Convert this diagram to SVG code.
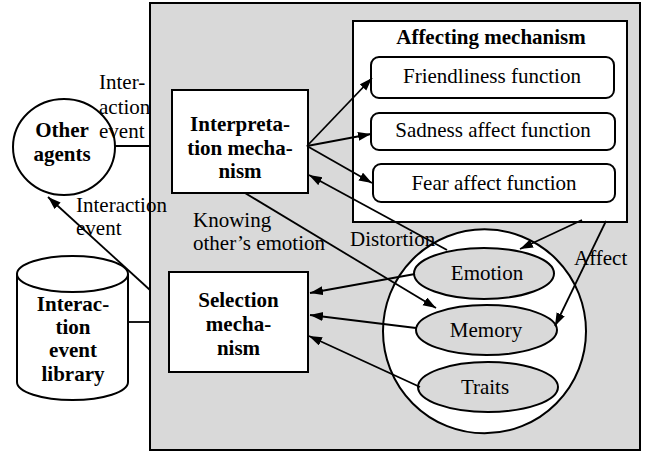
<svg xmlns="http://www.w3.org/2000/svg" width="647" height="454" viewBox="0 0 647 454">
  <defs>
    <marker id="arrow" markerUnits="userSpaceOnUse" markerWidth="14" markerHeight="10" refX="13" refY="4.5" orient="auto">
      <path d="M0,0 L13,4.5 L0,9 z" fill="#000"/>
    </marker>
    <style>
      text { font-family: "Liberation Serif", "DejaVu Serif", serif; font-size: 21px; fill: #000; }
      .b { font-weight: bold; }
      .c { text-anchor: middle; }
      .box { fill: #fff; stroke: #000; stroke-width: 2; }
      .grey { fill: #d9d9d9; stroke: #000; stroke-width: 2; }
      .link { fill: none; stroke: #000; stroke-width: 1.8; }
      .arr { fill: none; stroke: #000; stroke-width: 1.8; marker-end: url(#arrow); }
    </style>
  </defs>

  <!-- agent boundary -->
  <g id="agent">
    <rect class="grey" x="150" y="3" width="490" height="447"/>
  </g>

  <!-- affecting mechanism with its three functions -->
  <g id="affecting">
    <rect class="box" x="353" y="21" width="274" height="201"/>
    <text class="b c" x="491" y="44" font-family="Liberation Serif, serif">Affecting mechanism</text>
  </g>
  <g id="friendliness">
    <rect class="box" x="371" y="57" width="243" height="41" rx="8"/>
    <text class="c" x="492" y="83">Friendliness function</text>
  </g>
  <g id="sadness">
    <rect class="box" x="371" y="113" width="244" height="37" rx="8"/>
    <text class="c" x="493" y="137">Sadness affect function</text>
  </g>
  <g id="fear">
    <rect class="box" x="373" y="164" width="242" height="38" rx="8"/>
    <text class="c" x="494" y="190">Fear affect function</text>
  </g>

  <!-- interpretation mechanism -->
  <g id="interpretation">
    <rect class="box" x="172" y="90" width="136" height="103"/>
    <text class="b c" x="240" y="131">Interpreta-</text>
    <text class="b c" x="240" y="155">tion mecha-</text>
    <text class="b c" x="240" y="178">nism</text>
  </g>

  <!-- selection mechanism -->
  <g id="selection">
    <rect class="box" x="169" y="272" width="139" height="100"/>
    <text class="b c" x="238.5" y="307">Selection</text>
    <text class="b c" x="238.5" y="331">mecha-</text>
    <text class="b c" x="238.5" y="355">nism</text>
  </g>

  <!-- internal state -->
  <g id="state">
    <ellipse class="box" cx="484.5" cy="331.3" rx="101.5" ry="102"/>
  </g>
  <g id="emotion">
    <ellipse class="grey" cx="484" cy="273.5" rx="70" ry="25.5"/>
    <text class="c" x="487" y="280">Emotion</text>
  </g>
  <g id="memory">
    <ellipse class="grey" cx="486.5" cy="330" rx="70.5" ry="25"/>
    <text class="c" x="486" y="337">Memory</text>
  </g>
  <g id="traits">
    <ellipse class="grey" cx="488" cy="387" rx="70" ry="25"/>
    <text class="c" x="485" y="394">Traits</text>
  </g>

  <!-- other agents -->
  <g id="other-agents">
    <ellipse class="box" cx="64" cy="147" rx="51" ry="48"/>
    <text class="b c" x="62" y="137">Other</text>
    <text class="b c" x="62" y="161">agents</text>
  </g>

  <!-- interaction event library -->
  <g id="library">
    <path class="box" d="M17,274 L17,382 A55.5,18 0 0 0 128,382 L128,274"/>
    <ellipse class="box" cx="72.5" cy="274" rx="55.5" ry="18"/>
    <text class="b c" x="73" y="311">Interac-</text>
    <text class="b c" x="73" y="334">tion</text>
    <text class="b c" x="73" y="357">event</text>
    <text class="b c" x="73" y="381">library</text>
  </g>

  <!-- connectors -->
  <g id="connectors">
    <line class="link" x1="115" y1="146" x2="150" y2="146"/>
    <line class="link" x1="128" y1="322" x2="150" y2="322"/>
    <line class="arr" x1="150" y1="290" x2="48" y2="197"/>

    <line class="arr" x1="307" y1="146" x2="372" y2="78"/>
    <line class="arr" x1="307" y1="146" x2="371" y2="134"/>
    <line class="arr" x1="307" y1="146" x2="372" y2="183"/>

    <line class="arr" x1="447" y1="250" x2="309" y2="175"/>
    <line class="arr" x1="245" y1="193" x2="436" y2="308"/>

    <line class="arr" x1="582" y1="220" x2="520" y2="249"/>
    <line class="arr" x1="606" y1="221" x2="555" y2="326"/>

    <line class="arr" x1="415" y1="274" x2="310" y2="293"/>
    <line class="arr" x1="416" y1="328" x2="310" y2="315"/>
    <line class="arr" x1="420" y1="387" x2="309" y2="336"/>
  </g>

  <!-- connector labels -->
  <g id="labels">
    <text x="99" y="89">Inter-</text>
    <text x="99" y="114">action</text>
    <text x="99" y="138">event</text>
    <text x="76" y="212">Interaction</text>
    <text x="76" y="235">event</text>
    <text x="193" y="227">Knowing</text>
    <text x="193" y="250">other’s emotion</text>
    <text x="350" y="246">Distortion</text>
    <text x="574" y="265">Affect</text>
  </g>
</svg>
